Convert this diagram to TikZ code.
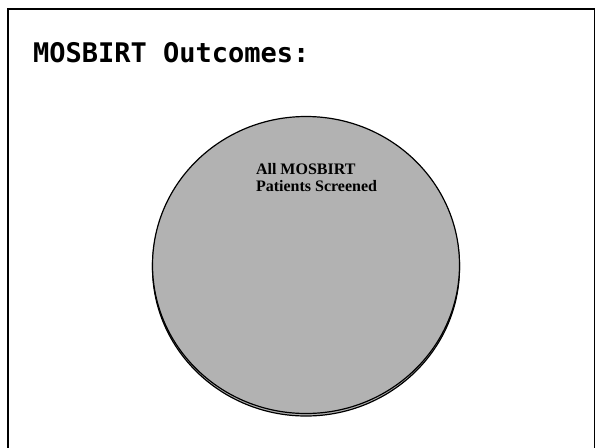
\documentclass[tikz,border=0pt]{standalone}
\usepackage{fontspec}
\setmainfont{Liberation Serif}
\newfontfamily\titlefont{DejaVu Sans Mono}
\usetikzlibrary{positioning}
\usetikzlibrary{shapes.geometric}
\tikzset{
    % Define the circle style
    outcome/.style={
           draw,
           ellipse,
           line width=1.2pt,
           fill=black!30,
           minimum width=307pt,
           minimum height=297pt,
           inner sep=0pt,},
    % Define the label style
    lbl/.style={
           align=left,
           inner sep=0pt,
           anchor=north west,
           font=\bfseries\fontsize{16}{17.7}\selectfont,}
}

\begin{document}
\begin{tikzpicture}[x=1pt, y=-1pt, outer sep = 0pt]
\useasboundingbox (0,0) rectangle (596,447);
\clip (0,0) rectangle (596,447);

% frame
\draw[line width=2.8pt] (8,470) -- (8,9) -- (594.5,9);
\draw[line width=1.6pt] (594.5,9) -- (594.5,470);

\node[anchor=base west, inner sep=0pt, font=\titlefont\bfseries\fontsize{27}{30}\selectfont] (title) at (33,62) {MOSBIRT Outcomes:};

\node[outcome] (shadow) at (306,267.5) {};
\node[outcome] (screened) at (306,265) {};

\node[lbl] (label) at (256,163) {All MOSBIRT\\Patients Screened};

\end{tikzpicture}
\end{document}
